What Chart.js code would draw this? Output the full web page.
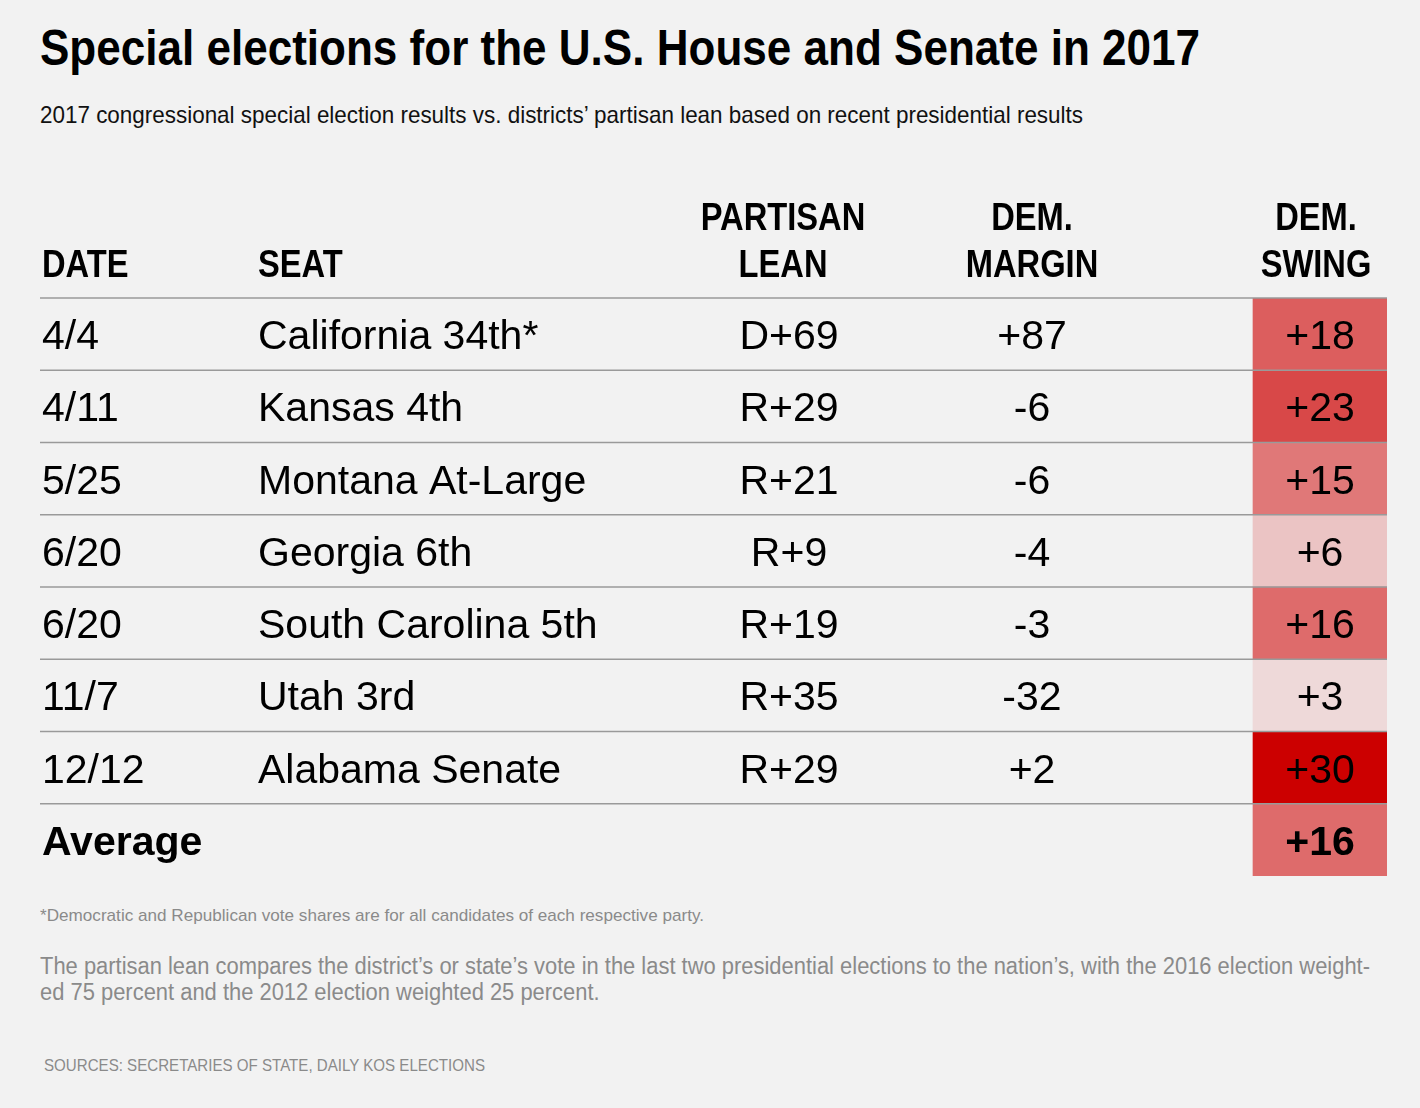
<!DOCTYPE html>
<html>
<head>
<meta charset="utf-8">
<script src="https://cdn.jsdelivr.net/npm/chart.js@4.4.1/dist/chart.umd.min.js"></script>
<style>
  html, body { margin: 0; padding: 0; background: #f2f2f2; }
  body { width: 1420px; height: 1108px; position: relative; overflow: hidden;
         font-family: "Liberation Sans", Arial, sans-serif; }
  .t { position: absolute; white-space: nowrap; transform-origin: 0 0; }
  #title { left: 40px; top: 18px; font-size: 50px; font-weight: bold; color: #000; line-height: 60px; }
  #subtitle { left: 40px; top: 100px; font-size: 24px; color: #111; line-height: 30px; }
  #note1 { left: 40px; top: 905px; font-size: 17px; color: #8a8a8a; line-height: 22px; }
  #note2 { left: 40px; top: 953px; font-size: 23px; color: #8a8a8a; line-height: 26px; }
  #source { left: 44px; top: 1055px; font-size: 17px; color: #8a8a8a; line-height: 22px; }
  #wrap { position: absolute; left: 0; top: 170px; width: 1420px; height: 720px; }
</style>
</head>
<body>
<div class="t" id="title">Special elections for the U.S. House and Senate in 2017</div>
<div class="t" id="subtitle">2017 congressional special election results vs. districts’ partisan lean based on recent presidential results</div>
<div id="wrap"><canvas id="c"></canvas></div>
<div class="t" id="note1">*Democratic and Republican vote shares are for all candidates of each respective party.</div>
<div class="t" id="note2"><span id="note2a">The partisan lean compares the district’s or state’s vote in the last two presidential elections to the nation’s, with the 2016 election weight-</span><br>ed 75 percent and the 2012 election weighted 25 percent.</div>
<div class="t" id="source">SOURCES: SECRETARIES OF STATE, DAILY KOS ELECTIONS</div>
<script>
// ---- data ----
const dates = ['4/4', '4/11', '5/25', '6/20', '6/20', '11/7', '12/12'];
const seats = ['California 34th*', 'Kansas 4th', 'Montana At-Large', 'Georgia 6th', 'South Carolina 5th', 'Utah 3rd', 'Alabama Senate'];
const partisanLean = ['D+69', 'R+29', 'R+21', 'R+9', 'R+19', 'R+35', 'R+29'];
const demMargin = [87, -6, -6, -4, -3, -32, 2];
const demSwing = [18, 23, 15, 6, 16, 3, 30];
const averageLabel = 'Average';
const averageSwing = 16;
const headers = [['', 'DATE'], ['', 'SEAT'], ['PARTISAN', 'LEAN'], ['DEM.', 'MARGIN'], ['DEM.', 'SWING']];

// ---- layout / style config ----
const COL = { date: 2, seat: 218, lean: 749, margin: 992, swingFrom: 1213, swingTo: 1347, swing: 1280 };
const HEAD_X = [2, 218, 743, 992, 1276];
const HEAD_ALIGN = ['left', 'left', 'center', 'center', 'center'];
const HEAD_SX = 0.86;
const SWING_COLORS = { 3: '#eed9d9', 6: '#ebc4c4', 15: '#e07878', 16: '#de6b6b', 18: '#dc5e5e', 23: '#d84848', 30: '#cc0000' };
const BODY_FONT = '41px "Liberation Sans", Arial, sans-serif';
const BOLD_FONT = 'bold 41px "Liberation Sans", Arial, sans-serif';
const HEAD_FONT = 'bold 38px "Liberation Sans", Arial, sans-serif';
const RULE_COLOR = '#9a9a9a';
const FIT = { title: 1160, subtitle: 1043, note1: 664, note2a: 1330, source: 441 };

// horizontally condense HTML text blocks to the reference widths
function fit(id, target, applyId) {
  const el = document.getElementById(id);
  const w = el.getBoundingClientRect().width;
  document.getElementById(applyId || id).style.transform = 'scaleX(' + (target / w) + ')';
}
fit('title', FIT.title);
fit('subtitle', FIT.subtitle);
fit('note1', FIT.note1);
fit('note2a', FIT.note2a, 'note2');
fit('source', FIT.source);

const rowLabels = seats.concat([averageLabel]);
const swingAll = demSwing.concat([averageSwing]);
const signed = v => (v > 0 ? '+' : '') + v;

function drawScaled(ctx, text, px, py, align, sx) {
  ctx.save();
  ctx.translate(px, py);
  ctx.scale(sx, 1);
  ctx.textAlign = align;
  ctx.fillText(text, 0, 0);
  ctx.restore();
}

// row separator rules: top edge of each row band on the category scale (none under the average row)
const rulesPlugin = {
  id: 'rowRules',
  afterDatasetsDraw(chart) {
    const { ctx, chartArea } = chart;
    const y = chart.scales.y;
    const band = y.getPixelForValue(1) - y.getPixelForValue(0);
    ctx.save();
    ctx.strokeStyle = RULE_COLOR;
    ctx.lineWidth = 1.5;
    for (let i = 0; i < rowLabels.length; i++) {
      const py = y.getPixelForValue(i) - band / 2;
      ctx.beginPath();
      ctx.moveTo(chartArea.left, py);
      ctx.lineTo(chartArea.right, py);
      ctx.stroke();
    }
    ctx.restore();
  }
};

const tablePlugin = {
  id: 'tableText',
  afterDraw(chart) {
    const { ctx, chartArea } = chart;
    const x = chart.scales.x, y = chart.scales.y;
    ctx.save();
    ctx.fillStyle = '#000';
    ctx.textBaseline = 'alphabetic';
    ctx.font = HEAD_FONT;
    headers.forEach((h, i) => {
      const px = x.getPixelForValue(HEAD_X[i]);
      if (h[0]) drawScaled(ctx, h[0], px, chartArea.top - 68, HEAD_ALIGN[i], HEAD_SX);
      drawScaled(ctx, h[1], px, chartArea.top - 21, HEAD_ALIGN[i], HEAD_SX);
    });
    ctx.font = BODY_FONT;
    dates.forEach((d, i) => {
      const by = y.getPixelForValue(i) + 15;
      ctx.textAlign = 'left';
      ctx.fillText(d, x.getPixelForValue(COL.date), by);
      ctx.fillText(seats[i], x.getPixelForValue(COL.seat), by);
      ctx.textAlign = 'center';
      ctx.fillText(partisanLean[i], x.getPixelForValue(COL.lean), by);
      ctx.fillText(signed(demMargin[i]), x.getPixelForValue(COL.margin), by);
      ctx.fillText(signed(demSwing[i]), x.getPixelForValue(COL.swing), by);
    });
    const ay = y.getPixelForValue(dates.length) + 15;
    ctx.font = BOLD_FONT;
    ctx.textAlign = 'left';
    ctx.fillText(averageLabel, x.getPixelForValue(COL.date), ay);
    ctx.textAlign = 'center';
    ctx.fillText(signed(averageSwing), x.getPixelForValue(COL.swing), ay);
    ctx.restore();
  }
};

new Chart(document.getElementById('c'), {
  type: 'bar',
  data: {
    labels: rowLabels,
    datasets: [{
      data: swingAll.map(() => [COL.swingFrom, COL.swingTo]),
      backgroundColor: c => SWING_COLORS[swingAll[c.dataIndex]] || '#de6b6b',
      borderWidth: 0,
      barPercentage: 1,
      categoryPercentage: 1
    }]
  },
  options: {
    indexAxis: 'y',
    responsive: true,
    maintainAspectRatio: false,
    animation: false,
    layout: { padding: { top: 128, bottom: 14, left: 40, right: 33 } },
    plugins: { legend: { display: false }, tooltip: { enabled: false } },
    scales: {
      x: { type: 'linear', min: 0, max: 1347, display: false },
      y: {
        ticks: { display: false },
        border: { display: false },
        grid: { display: false, drawTicks: false }
      }
    }
  },
  plugins: [rulesPlugin, tablePlugin]
});
</script>
</body>
</html>
